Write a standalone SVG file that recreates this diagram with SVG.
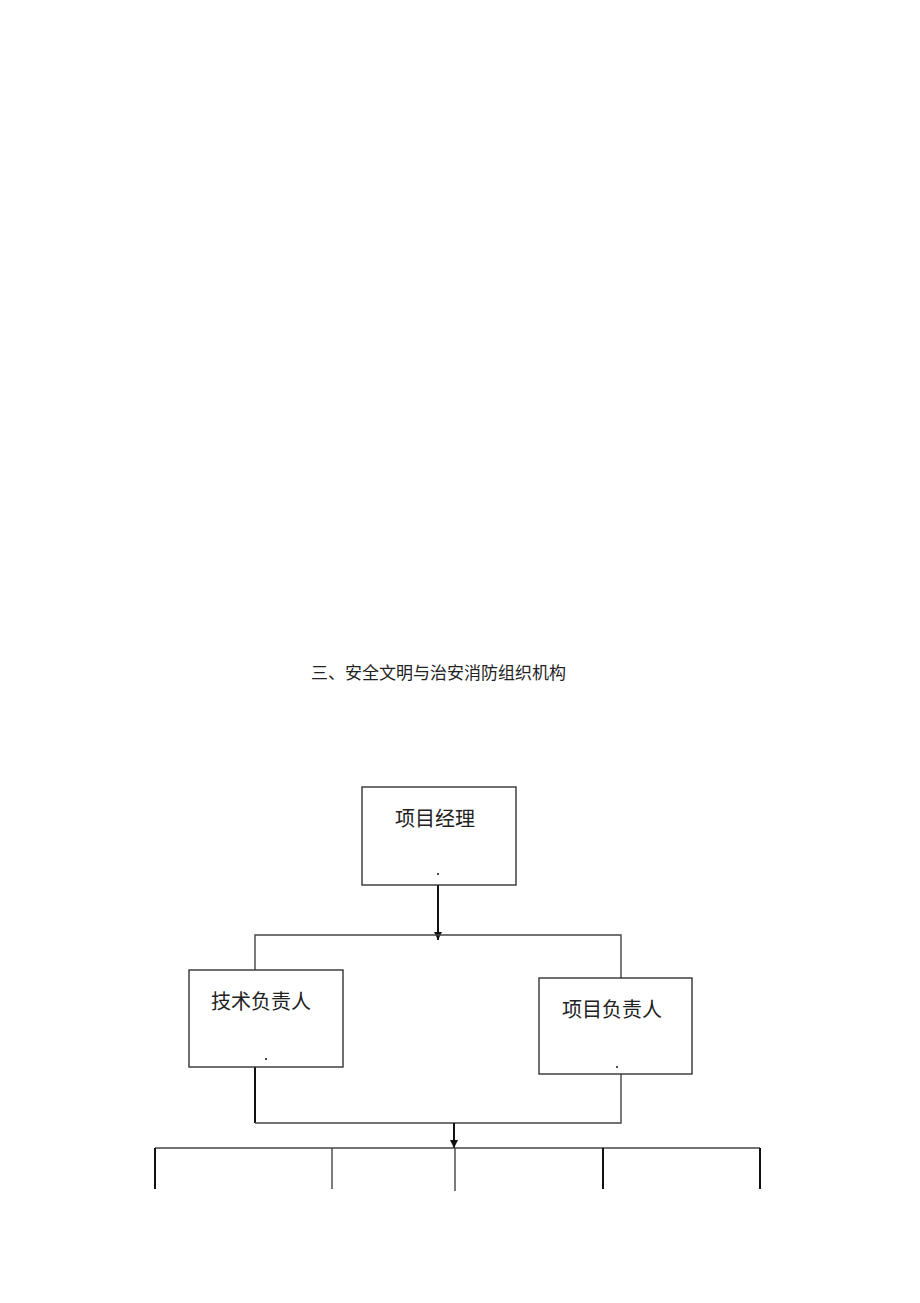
<svg xmlns="http://www.w3.org/2000/svg" width="920" height="1303" viewBox="0 0 920 1303">
<style>
.box{fill:#fff;stroke:#333;stroke-width:1.4}
.ln{fill:none;stroke:#444;stroke-width:1.4}
.thk{fill:none;stroke:#111;stroke-width:2}
.t{font-family:"Liberation Serif","Noto Sans CJK SC",serif;fill:#222}
.dot{fill:#222}
</style>
<defs>
<marker id="ah" viewBox="0 0 10 10" refX="10" refY="5" markerWidth="8" markerHeight="8" markerUnits="userSpaceOnUse" orient="auto">
<path d="M0,0 L10,5 L0,10 z" fill="#111"/>
</marker>
</defs>
<rect width="920" height="1303" fill="#fff"/>
<text class="t" x="311" y="679" font-size="17">三、安全文明与治安消防组织机构</text>
<g id="connectors">
<line class="thk" x1="438" y1="885" x2="438" y2="940" marker-end="url(#ah)"/>
<polyline class="ln" points="255,970 255,935 621,935 621,978"/>
<polyline class="thk" points="255,1067 255,1123"/>
<polyline class="ln" points="255,1123 621,1123 621,1074"/>
<line class="thk" x1="454" y1="1123" x2="454" y2="1148" marker-end="url(#ah)"/>
<line class="ln" x1="155" y1="1148" x2="760" y2="1148"/>
<line class="thk" x1="155" y1="1148" x2="155" y2="1189"/>
<line class="ln" x1="332" y1="1148" x2="332" y2="1189"/>
<line class="ln" x1="455" y1="1148" x2="455" y2="1191"/>
<line class="thk" x1="603" y1="1148" x2="603" y2="1189"/>
<line class="thk" x1="760" y1="1148" x2="760" y2="1189"/>
</g>
<g id="n_pm">
<rect class="box" x="362" y="787" width="154" height="98"/>
<text class="t" x="395" y="826" font-size="20">项目经理</text>
<circle class="dot" cx="438" cy="874" r="1.1"/>
</g>
<g id="n_tech">
<rect class="box" x="189" y="970" width="154" height="97"/>
<text class="t" x="211" y="1009" font-size="20">技术负责人</text>
<circle class="dot" cx="266" cy="1059" r="1.1"/>
</g>
<g id="n_proj">
<rect class="box" x="539" y="978" width="153" height="96"/>
<text class="t" x="562" y="1017" font-size="20">项目负责人</text>
<circle class="dot" cx="617" cy="1067" r="1.1"/>
</g>
</svg>
